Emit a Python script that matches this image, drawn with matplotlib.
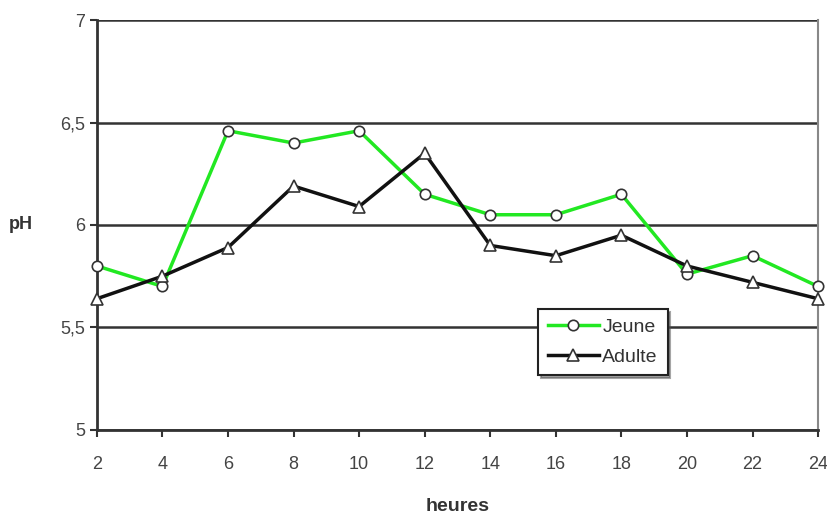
import matplotlib
matplotlib.use("Agg")
import matplotlib.pyplot as plt

heures = [2, 4, 6, 8, 10, 12, 14, 16, 18, 20, 22, 24]
jeune = [5.80, 5.70, 6.46, 6.40, 6.46, 6.15, 6.05, 6.05, 6.15, 5.76, 5.85, 5.70]
adulte = [5.64, 5.75, 5.89, 6.19, 6.09, 6.35, 5.90, 5.85, 5.95, 5.80, 5.72, 5.64]
y_ticks = [5, 5.5, 6, 6.5, 7]
y_labels = ["5", "5,5", "6", "6,5", "7"]

plt.rcParams["font.family"] = ["Liberation Sans", "DejaVu Sans"]

fig = plt.figure(figsize=(8.28, 5.16), dpi=100)
ax = fig.add_axes([0.117, 0.167, 0.871, 0.794])

ax.plot(heures, jeune, color="#22e822", lw=2.5, marker="o", ms=7.5,
        mfc="white", mec="#333333", mew=1.2, label="Jeune", zorder=3,
        clip_on=False)
ax.plot(heures, adulte, color="#111111", lw=2.5, marker="^", ms=8.5,
        mfc="white", mec="#333333", mew=1.2, label="Adulte", zorder=3,
        clip_on=False)

ax.set_xlim(2, 24)
ax.set_ylim(5, 7)
ax.set_xticks(heures)
ax.set_yticks(y_ticks)
ax.set_yticklabels(y_labels)
ax.yaxis.grid(True, color="#333333", lw=1.8)
ax.set_axisbelow(True)
ax.tick_params(direction="out", length=5, width=1.5, colors="#333333",
               labelsize=13, labelcolor="#444444")
ax.tick_params(axis="x", pad=14)

ax.spines["top"].set_visible(False)
ax.spines["right"].set_color("#888888")
ax.spines["right"].set_linewidth(1.5)
ax.spines["left"].set_linewidth(2)
ax.spines["bottom"].set_linewidth(2)
ax.spines["left"].set_color("#333333")
ax.spines["bottom"].set_color("#333333")

ax.set_xlabel("heures", fontsize=14, fontweight="bold", color="#333333", labelpad=18)
ax.set_ylabel("pH", fontsize=13, fontweight="bold", color="#333333",
              rotation=0, labelpad=28, va="center")

leg = ax.legend(loc="upper left", bbox_to_anchor=(0.612, 0.295), fontsize=14,
                frameon=True, fancybox=False, shadow=True, handlelength=2.6,
                borderpad=0.5, labelspacing=0.6, handletextpad=0.2,
                borderaxespad=0)
leg.get_frame().set_edgecolor("#222222")
leg.get_frame().set_linewidth(1.5)
for t in leg.get_texts():
    t.set_color("#333333")

fig.savefig("out.png", dpi=100)
